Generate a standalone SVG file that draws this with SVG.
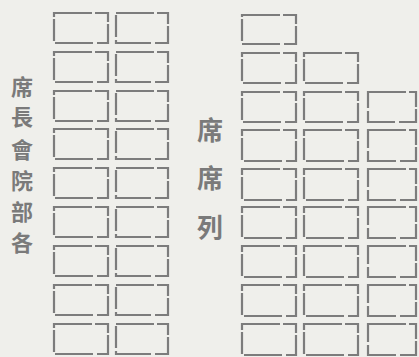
<svg xmlns="http://www.w3.org/2000/svg" width="419" height="357" viewBox="0 0 419 357">
<style>
.bg{fill:#efefeb}
.s{fill:none;stroke:#7c7c7c;stroke-width:2.2;stroke-dasharray:38 3 22 2 30 4}
.t{font-family:"Noto Sans CJK TC","Noto Sans CJK SC",sans-serif;font-weight:bold;fill:#7a7a7a;text-anchor:middle}
</style>
<rect class="bg" x="0" y="0" width="419" height="357"/>
<g id="left-seats">
<rect class="s" x="54" y="13" width="54" height="30"/><rect class="s" x="116" y="13" width="52" height="30"/>
<rect class="s" x="54" y="52" width="54" height="30"/><rect class="s" x="116" y="52" width="52" height="30"/>
<rect class="s" x="54" y="91" width="54" height="30"/><rect class="s" x="116" y="91" width="52" height="30"/>
<rect class="s" x="54" y="129" width="54" height="30"/><rect class="s" x="116" y="129" width="52" height="30"/>
<rect class="s" x="54" y="168" width="54" height="30"/><rect class="s" x="116" y="168" width="52" height="30"/>
<rect class="s" x="54" y="207" width="54" height="30"/><rect class="s" x="116" y="207" width="52" height="30"/>
<rect class="s" x="54" y="246" width="54" height="30"/><rect class="s" x="116" y="246" width="52" height="30"/>
<rect class="s" x="54" y="285" width="54" height="30"/><rect class="s" x="116" y="285" width="52" height="30"/>
<rect class="s" x="54" y="324" width="54" height="30"/><rect class="s" x="116" y="324" width="52" height="30"/>
</g>
<g id="right-seats">
<rect class="s" x="242" y="15" width="54" height="29"/>
<rect class="s" x="242" y="53" width="54" height="30"/><rect class="s" x="304" y="53" width="54" height="30"/>
<rect class="s" x="242" y="92" width="54" height="30"/><rect class="s" x="304" y="92" width="54" height="30"/><rect class="s" x="368" y="92" width="48" height="30"/>
<rect class="s" x="242" y="130" width="54" height="31"/><rect class="s" x="304" y="130" width="54" height="31"/><rect class="s" x="368" y="130" width="48" height="31"/>
<rect class="s" x="242" y="169" width="54" height="31"/><rect class="s" x="304" y="169" width="54" height="31"/><rect class="s" x="368" y="169" width="48" height="31"/>
<rect class="s" x="242" y="207" width="54" height="31"/><rect class="s" x="304" y="207" width="54" height="31"/><rect class="s" x="368" y="207" width="48" height="31"/>
<rect class="s" x="242" y="246" width="54" height="31"/><rect class="s" x="304" y="246" width="54" height="31"/><rect class="s" x="368" y="246" width="48" height="31"/>
<rect class="s" x="242" y="285" width="54" height="31"/><rect class="s" x="304" y="285" width="54" height="31"/><rect class="s" x="368" y="285" width="48" height="31"/>
<rect class="s" x="242" y="324" width="54" height="31"/><rect class="s" x="304" y="324" width="54" height="31"/><rect class="s" x="368" y="324" width="48" height="31"/>
</g>
<g id="label-left" class="t" font-size="22">
<text x="22" y="95">席</text>
<text x="22" y="125">長</text>
<text x="22" y="158">會</text>
<text x="22" y="189">院</text>
<text x="22" y="220">部</text>
<text x="22" y="251">各</text>
</g>
<g id="label-middle" class="t" font-size="26">
<text x="210" y="140">席</text>
<text x="210" y="188">席</text>
<text x="210" y="237">列</text>
</g>
</svg>
